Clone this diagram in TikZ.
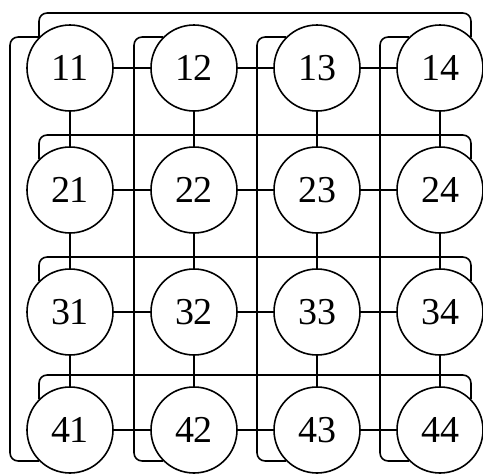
\documentclass[tikz,border=0pt]{standalone}
\usepackage{fontspec}
\setmainfont{Liberation Serif}

\begin{document}
\begin{tikzpicture}[
    x=1pt, y=-1pt,
    pe/.style={circle, draw, line width=1.6pt, minimum size=86pt, inner sep=0pt, font=\fontsize{38}{38}\selectfont},
    link/.style={line width=1.6pt},
    wrap/.style={line width=1.6pt, rounded corners=8pt}
]
\useasboundingbox (0,0) rectangle (483,474);

% processing elements
\foreach \r/\y in {1/68, 2/190, 3/312, 4/430}
  \foreach \c/\x in {1/70, 2/194, 3/317, 4/440}
    \node[pe] (n\r\c) at (\x,\y) {\r\c};

% mesh links
\foreach \r in {1,...,4}
  \foreach \c/\d in {1/2, 2/3, 3/4} {
    \draw[link] (n\r\c) -- (n\r\d);
    \draw[link] (n\c\r) -- (n\d\r);
  }

% wrap-around links
\foreach \r in {1,...,4} {
  \draw[wrap] (n\r1.135) -- ++(0,-24) -| (n\r4.45);
  \draw[wrap] (n1\r.135) -- ++(-29,0) |- (n4\r.225);
}

\end{tikzpicture}
\end{document}
